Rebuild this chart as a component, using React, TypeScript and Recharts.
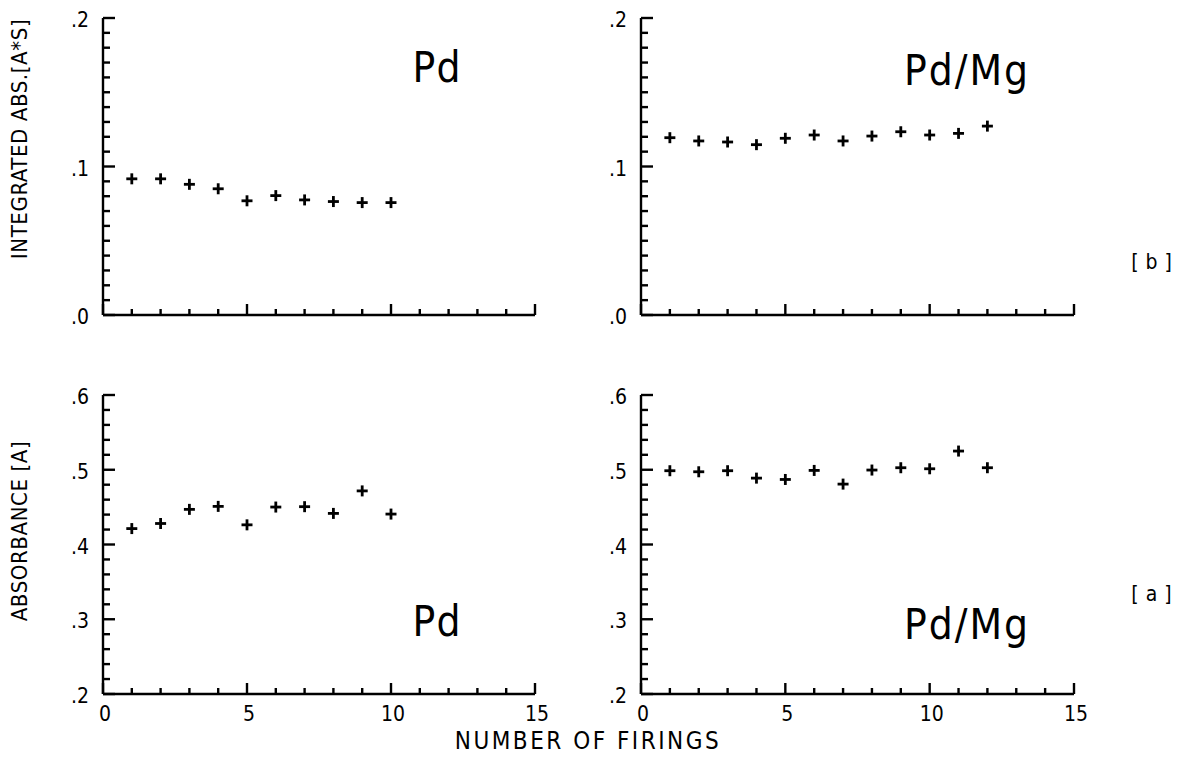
import { ScatterChart, Scatter, XAxis, YAxis } from "recharts";

const W = 1189;
const H = 779;
const FONT = '"DejaVu Sans Condensed", "DejaVu Sans", sans-serif';

// number of firings
const firings = [1, 2, 3, 4, 5, 6, 7, 8, 9, 10, 11, 12];

// [b] integrated absorbance (A*s)
const intAbsPd = [0.0917, 0.0917, 0.088, 0.085, 0.0769, 0.0804, 0.0775, 0.0764, 0.0757, 0.0757];
const intAbsPdMg = [0.1194, 0.1172, 0.1165, 0.1147, 0.119, 0.1212, 0.1172, 0.1205, 0.1234, 0.1212, 0.1223, 0.1272];

// [a] peak absorbance (A)
const absPd = [0.4213, 0.4281, 0.447, 0.451, 0.4263, 0.4501, 0.4506, 0.4416, 0.4717, 0.4407];
const absPdMg = [0.4987, 0.4973, 0.4987, 0.4888, 0.487, 0.4991, 0.4808, 0.4996, 0.5027, 0.5013, 0.525, 0.5027];

// axis ticks
const xTicks = [0, 1, 2, 3, 4, 5, 6, 7, 8, 9, 10, 11, 12, 13, 14, 15];
const xMajor = [0, 5, 10, 15];
const yTicksInt = [0, 0.01, 0.02, 0.03, 0.04, 0.05, 0.06, 0.07, 0.08, 0.09, 0.1,
  0.11, 0.12, 0.13, 0.14, 0.15, 0.16, 0.17, 0.18, 0.19, 0.2];
const yMajorInt = [0, 0.1, 0.2];
const yTicksAbs = [0.2, 0.22, 0.24, 0.26, 0.28, 0.3, 0.32, 0.34, 0.36, 0.38, 0.4,
  0.42, 0.44, 0.46, 0.48, 0.5, 0.52, 0.54, 0.56, 0.58, 0.6];
const yMajorAbs = [0.2, 0.3, 0.4, 0.5, 0.6];

const isMajor = (v: number, list: number[]) => list.some((m) => Math.abs(m - v) < 1e-9);
const fmtY = (v: number) => v.toFixed(1).replace(/^0/, "");

const toPoints = (ys: number[]) => ys.map((y, i) => ({ x: firings[i], y }));

function Plus(props: any) {
  const { cx, cy } = props;
  const s = 5.5;
  return (
    <g stroke="#000" strokeWidth={2.8}>
      <line x1={cx - s} y1={cy} x2={cx + s} y2={cy} />
      <line x1={cx} y1={cy - s} x2={cx} y2={cy + s} />
    </g>
  );
}

// inward tick marks, drawn as their own series so they sit on top
function YTickMark(props: any) {
  const { cx, cy, payload } = props;
  const len = payload.major ? 12 : 7;
  return <path d={`M${cx},${cy}H${cx + len}`} stroke="#000" strokeWidth={2.4} fill="none" />;
}

function XTickMark(props: any) {
  const { cx, cy, payload } = props;
  const len = payload.major ? 11 : 6;
  return <path d={`M${cx},${cy}V${cy - len}`} stroke="#000" strokeWidth={2.4} fill="none" />;
}

type Box = { left: number; top: number; right: number; bottom: number };

function Panel({ box, domain, yTicks, yMajor, values, xLabels }: {
  box: Box; domain: [number, number]; yTicks: number[]; yMajor: number[];
  values: number[]; xLabels: boolean;
}) {
  const yAxisW = 40;
  const xAxisH = 30;

  const yMarks = yTicks.map((v) => ({ x: 0, y: v, major: isMajor(v, yMajor) }));
  const xMarks = xTicks.map((v) => ({ x: v, y: domain[0], major: isMajor(v, xMajor) }));

  const renderYTick = (p: any) => {
    const v = p.payload.value;
    if (!isMajor(v, yMajor)) return <g />;
    return (
      <text x={box.left - 14} y={p.y + 2} textAnchor="end" dominantBaseline="central"
        fontFamily={FONT} fontSize={21} fill="#000">
        {fmtY(v)}
      </text>
    );
  };

  const renderXTick = (p: any) => {
    const v = p.payload.value;
    if (!xLabels || !isMajor(v, xMajor)) return <g />;
    return (
      <text x={p.x + 2} y={box.bottom + 20} textAnchor="middle" dominantBaseline="central"
        fontFamily={FONT} fontSize={21} fill="#000">
        {v}
      </text>
    );
  };

  const frame = { stroke: "#000", strokeWidth: 2.4 };

  return (
    <div style={{ position: "absolute", left: 0, top: 0 }}>
      <ScatterChart
        width={W}
        height={H}
        margin={{
          top: box.top,
          left: box.left - yAxisW,
          right: W - box.right,
          bottom: H - box.bottom - xAxisH,
        }}
      >
        <XAxis xAxisId="b" type="number" dataKey="x" domain={[0, 15]} ticks={xTicks} interval={0}
          height={xAxisH} axisLine={frame} tickLine={false} tick={renderXTick} />
        <XAxis xAxisId="t" orientation="top" type="number" dataKey="x" domain={[0, 15]}
          height={0} axisLine={frame} tickLine={false} tick={false} />
        <YAxis yAxisId="l" type="number" dataKey="y" domain={domain} ticks={yTicks} interval={0}
          width={yAxisW} axisLine={frame} tickLine={false} tick={renderYTick} />
        <YAxis yAxisId="r" orientation="right" type="number" dataKey="y" domain={domain}
          width={0} axisLine={frame} tickLine={false} tick={false} />
        <Scatter xAxisId="b" yAxisId="l" data={yMarks} shape={YTickMark} isAnimationActive={false} />
        <Scatter xAxisId="b" yAxisId="l" data={xMarks} shape={XTickMark} isAnimationActive={false} />
        <Scatter xAxisId="b" yAxisId="l" data={toPoints(values)} shape={Plus} isAnimationActive={false} />
      </ScatterChart>
    </div>
  );
}

const textStyle = { fontFamily: FONT, fill: "#000" };

export default function App() {
  return (
    <div style={{ position: "absolute", left: 0, top: 0, width: W, height: H, background: "#fff" }}>
      <svg width={W} height={H} style={{ position: "absolute", left: 0, top: 0, pointerEvents: "none" }}>
        <text {...textStyle} fontSize={22} letterSpacing={0.6} textAnchor="middle" dominantBaseline="central"
          transform="translate(19,139) rotate(-90)">INTEGRATED ABS.[A*S]</text>
        <text {...textStyle} fontSize={22} letterSpacing={0.6} textAnchor="middle" dominantBaseline="central"
          transform="translate(19,531) rotate(-90)">ABSORBANCE [A]</text>
        <text {...textStyle} x={588} y={741} fontSize={24} letterSpacing={2.5} textAnchor="middle"
          dominantBaseline="central">
          NUMBER OF FIRINGS
        </text>
        <text {...textStyle} x={1155} y={262} fontSize={21} letterSpacing={7} textAnchor="middle"
          dominantBaseline="central">[b]</text>
        <text {...textStyle} x={1155} y={594} fontSize={21} letterSpacing={7} textAnchor="middle"
          dominantBaseline="central">[a]</text>

        <text {...textStyle} x={437} y={67} fontSize={42} letterSpacing={1} textAnchor="middle" dominantBaseline="central">Pd</text>
        <text {...textStyle} x={967} y={70} fontSize={42} letterSpacing={2} textAnchor="middle" dominantBaseline="central">Pd/Mg</text>
        <text {...textStyle} x={437} y={621} fontSize={42} letterSpacing={1} textAnchor="middle" dominantBaseline="central">Pd</text>
        <text {...textStyle} x={967} y={624} fontSize={42} letterSpacing={2} textAnchor="middle" dominantBaseline="central">Pd/Mg</text>
      </svg>

      <Panel box={{ left: 103, top: 18, right: 535, bottom: 315 }} domain={[0, 0.2]}
        yTicks={yTicksInt} yMajor={yMajorInt} values={intAbsPd} xLabels={false} />
      <Panel box={{ left: 641, top: 18, right: 1074, bottom: 315 }} domain={[0, 0.2]}
        yTicks={yTicksInt} yMajor={yMajorInt} values={intAbsPdMg} xLabels={false} />
      <Panel box={{ left: 103, top: 395, right: 535, bottom: 694 }} domain={[0.2, 0.6]}
        yTicks={yTicksAbs} yMajor={yMajorAbs} values={absPd} xLabels={true} />
      <Panel box={{ left: 641, top: 395, right: 1074, bottom: 694 }} domain={[0.2, 0.6]}
        yTicks={yTicksAbs} yMajor={yMajorAbs} values={absPdMg} xLabels={true} />
    </div>
  );
}
